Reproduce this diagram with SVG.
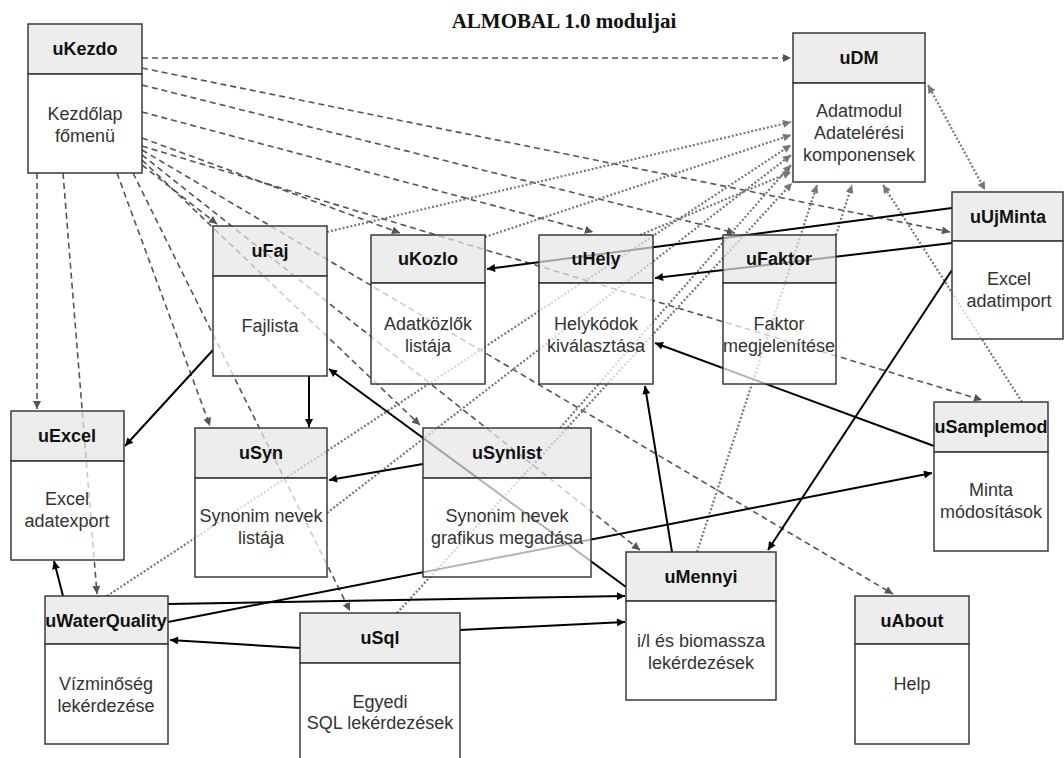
<svg xmlns="http://www.w3.org/2000/svg" width="1064" height="758" viewBox="0 0 1064 758">
<defs>
<style>
.hd{fill:#e6e6e6;fill-opacity:0.7;stroke:#3a3a3a;stroke-width:1.5}
.bd{fill:#fff;fill-opacity:0.7;stroke:#3a3a3a;stroke-width:1.5}
.ht{font-family:"Liberation Sans",Arial,sans-serif;font-size:18px;font-weight:bold;fill:#111;text-anchor:middle}
.bt{font-family:"Liberation Sans",Arial,sans-serif;font-size:18px;fill:#333;text-anchor:middle}
.sol{stroke:#000;stroke-width:2;fill:none;marker-end:url(#aS)}
.dsh{stroke:#555;stroke-width:1.6;stroke-dasharray:6,4;fill:none;marker-end:url(#aD)}
.dot{stroke:#777;stroke-width:2.2;stroke-dasharray:2,2;fill:none;marker-end:url(#aT)}
</style>
<marker id="aS" viewBox="0 0 10 10" refX="10" refY="5" markerWidth="11" markerHeight="8" markerUnits="userSpaceOnUse" orient="auto"><path d="M0,0 L10,5 L0,10 z" fill="#000"/></marker>
<marker id="aD" viewBox="0 0 10 10" refX="10" refY="5" markerWidth="10" markerHeight="8" markerUnits="userSpaceOnUse" orient="auto"><path d="M0,0 L10,5 L0,10 z" fill="#555"/></marker>
<marker id="aT" viewBox="0 0 10 10" refX="10" refY="5" markerWidth="10" markerHeight="8" markerUnits="userSpaceOnUse" orient="auto-start-reverse"><path d="M0,0 L10,5 L0,10 z" fill="#777"/></marker>
</defs>
<rect width="1064" height="758" fill="#fff"/>
<text x="564" y="28" font-family="'Liberation Serif','Times New Roman',serif" font-size="21" font-weight="bold" text-anchor="middle" fill="#111">ALMOBAL 1.0 moduljai</text>

<g id="connectors">
<path class="dsh" d="M142,58 L791,58"/>
<path class="dsh" d="M142,68 L950,232"/>
<path class="dsh" d="M142,85 L735,233"/>
<path class="dsh" d="M142,112 L593,232"/>
<path class="dsh" d="M142,138 L400,233"/>
<path class="dsh" d="M142,146 L982,400"/>
<path class="dsh" d="M142,150 L893,594"/>
<path class="dsh" d="M142,155 L640,550"/>
<path class="dsh" d="M142,160 L420,425"/>
<path class="dsh" d="M142,165 L217,224"/>
<path class="dsh" d="M37,173 L37,409"/>
<path class="dsh" d="M63,173 L97,594"/>
<path class="dsh" d="M117,173 L210,426"/>
<path class="dsh" d="M133,173 L350,611"/>

<path class="dot" d="M327,232 L791,122"/>
<path class="dot" d="M485,237 L791,135"/>
<path class="dot" d="M107,596 L791,145"/>
<path class="dot" d="M327,513 L791,155"/>
<path class="dot" d="M560,428 L791,165"/>
<path class="dot" d="M640,235 L791,172"/>
<path class="dot" d="M397,613 L792,183"/>
<path class="dot" d="M697,552 L817,185"/>
<path class="dot" d="M836,235 L852,185"/>
<path class="dot" d="M1022,402 L883,185"/>
<path class="dot" d="M928,85 L985,190" style="marker-start:url(#aT)"/>

<path class="sol" d="M952,208 L487,269"/>
<path class="sol" d="M952,243 L655,278"/>
<path class="sol" d="M934,446 L655,343"/>
<path class="sol" d="M952,270 L768,550"/>
<path class="sol" d="M168,622 L932,473"/>
<path class="sol" d="M168,604 L625,596"/>
<path class="sol" d="M300,648 L170,640"/>
<path class="sol" d="M460,630 L625,622"/>
<path class="sol" d="M63,596 L54,561"/>
<path class="sol" d="M213,350 L125,446"/>
<path class="sol" d="M309,376 L309,427"/>
<path class="sol" d="M423,464 L329,480"/>
<path class="sol" d="M626,587 L329,369"/>
<path class="sol" d="M672,552 L645,386"/>
</g>

<g id="uKezdo"><rect class="hd" x="28" y="24" width="114" height="50"/><rect class="bd" x="28" y="74" width="114" height="99"/><text class="ht" x="85" y="55">uKezdo</text><text class="bt" x="85" y="120">Kezdőlap</text><text class="bt" x="85" y="142">főmenü</text></g>
<g id="uDM"><rect class="hd" x="793" y="33" width="132" height="50"/><rect class="bd" x="793" y="83" width="132" height="99"/><text class="ht" x="859" y="64">uDM</text><text class="bt" x="859" y="117">Adatmodul</text><text class="bt" x="859" y="139">Adatelérési</text><text class="bt" x="859" y="161">komponensek</text></g>
<g id="uUjMinta"><rect class="hd" x="952" y="192" width="111" height="49"/><rect class="bd" x="952" y="241" width="111" height="98"/><text class="ht" x="1008" y="223">uUjMinta</text><text class="bt" x="1009" y="285">Excel</text><text class="bt" x="1009" y="307">adatimport</text></g>
<g id="uFaj"><rect class="hd" x="213" y="226" width="114" height="50"/><rect class="bd" x="213" y="276" width="114" height="100"/><text class="ht" x="270" y="257">uFaj</text><text class="bt" x="270" y="332">Fajlista</text></g>
<g id="uKozlo"><rect class="hd" x="371" y="235" width="114" height="48"/><rect class="bd" x="371" y="283" width="114" height="101"/><text class="ht" x="428" y="265">uKozlo</text><text class="bt" x="428" y="330">Adatközlők</text><text class="bt" x="428" y="352">listája</text></g>
<g id="uHely"><rect class="hd" x="539" y="235" width="114" height="48"/><rect class="bd" x="539" y="283" width="114" height="101"/><text class="ht" x="596" y="265">uHely</text><text class="bt" x="596" y="330">Helykódok</text><text class="bt" x="596" y="352">kiválasztása</text></g>
<g id="uFaktor"><rect class="hd" x="723" y="235" width="113" height="48"/><rect class="bd" x="723" y="283" width="113" height="101"/><text class="ht" x="779" y="265">uFaktor</text><text class="bt" x="779" y="330">Faktor</text><text class="bt" x="779" y="352">megjelenítése</text></g>
<g id="uExcel"><rect class="hd" x="11" y="411" width="113" height="50"/><rect class="bd" x="11" y="461" width="113" height="99"/><text class="ht" x="67" y="442">uExcel</text><text class="bt" x="67" y="505">Excel</text><text class="bt" x="67" y="527">adatexport</text></g>
<g id="uSyn"><rect class="hd" x="195" y="428" width="132" height="50"/><rect class="bd" x="195" y="478" width="132" height="99"/><text class="ht" x="261" y="459">uSyn</text><text class="bt" x="261" y="522">Synonim nevek</text><text class="bt" x="261" y="544">listája</text></g>
<g id="uSynlist"><rect class="hd" x="423" y="428" width="168" height="50"/><rect class="bd" x="423" y="478" width="168" height="99"/><text class="ht" x="507" y="459">uSynlist</text><text class="bt" x="507" y="522">Synonim nevek</text><text class="bt" x="507" y="544">grafikus megadása</text></g>
<g id="uSamplemod"><rect class="hd" x="934" y="402" width="114" height="50"/><rect class="bd" x="934" y="452" width="114" height="99"/><text class="ht" x="991" y="433">uSamplemod</text><text class="bt" x="991" y="496">Minta</text><text class="bt" x="991" y="518">módosítások</text></g>
<g id="uMennyi"><rect class="hd" x="626" y="552" width="150" height="49"/><rect class="bd" x="626" y="601" width="150" height="99"/><text class="ht" x="701" y="583">uMennyi</text><text class="bt" x="701" y="647">i/l és biomassza</text><text class="bt" x="701" y="669">lekérdezések</text></g>
<g id="uAbout"><rect class="hd" x="855" y="596" width="114" height="48"/><rect class="bd" x="855" y="644" width="114" height="100"/><text class="ht" x="912" y="627">uAbout</text><text class="bt" x="912" y="690">Help</text></g>
<g id="uWaterQuality"><rect class="hd" x="45" y="596" width="123" height="48"/><rect class="bd" x="45" y="644" width="123" height="100"/><text class="ht" x="106" y="627">uWaterQuality</text><text class="bt" x="106" y="690">Vízminőség</text><text class="bt" x="106" y="712">lekérdezése</text></g>
<g id="uSql"><rect class="hd" x="300" y="613" width="160" height="50"/><rect class="bd" x="300" y="663" width="160" height="110"/><text class="ht" x="380" y="644">uSql</text><text class="bt" x="380" y="708">Egyedi</text><text class="bt" x="380" y="729">SQL lekérdezések</text></g>
</svg>
